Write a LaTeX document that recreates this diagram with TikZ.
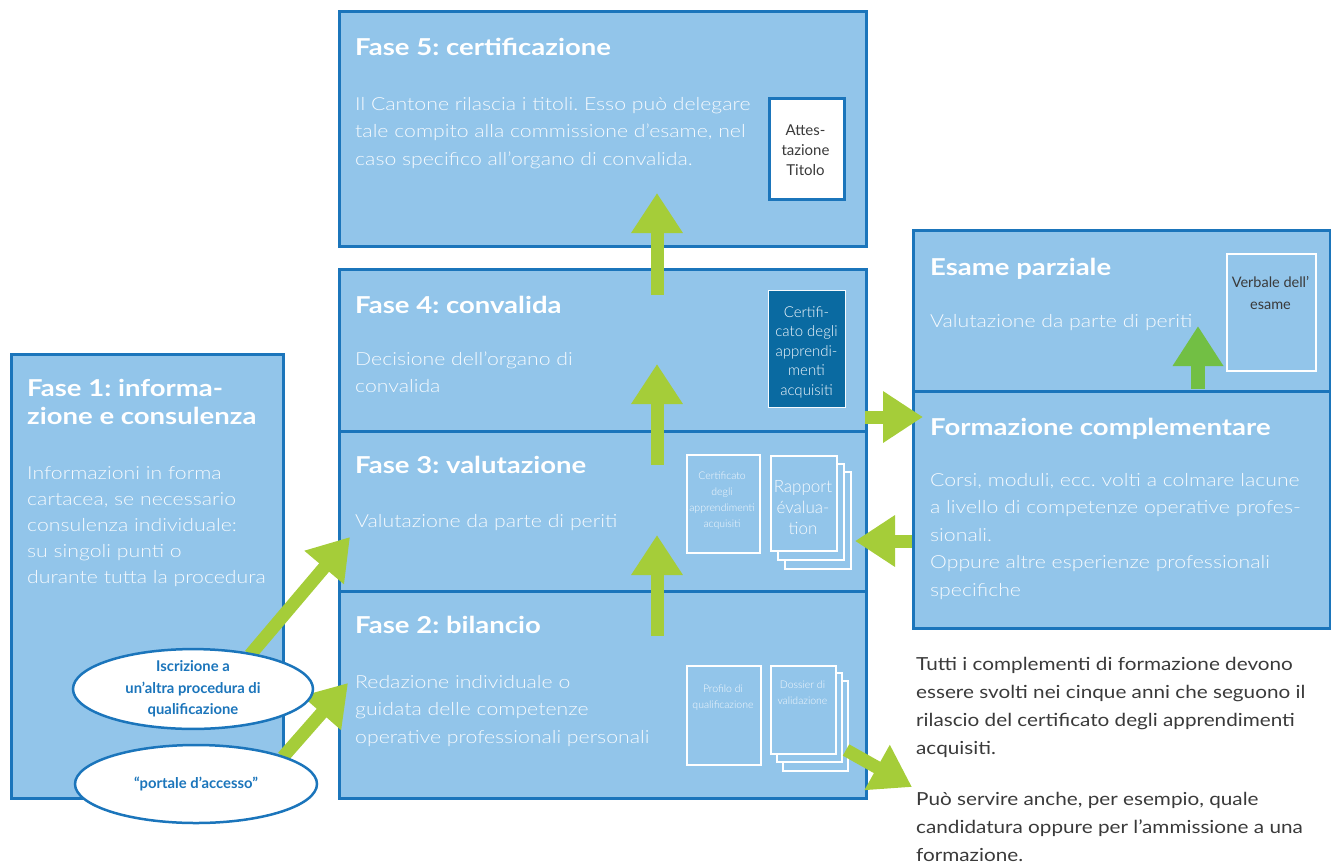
\documentclass[tikz,border=0pt]{standalone}
\usepackage{fontspec}
\setmainfont{Lato}
\newfontfamily\lightp{Lato Light}
\newfontfamily\headf{Lato}[FakeStretch=1.18]
\newfontfamily\bodyf{Lato Light}[FakeStretch=1.18]
\newfontfamily\outf{Lato}[FakeStretch=1.15]
\frenchspacing
\usetikzlibrary{arrows.meta,shapes.geometric}
\definecolor{fillb}{HTML}{92C5EA}
\definecolor{lineb}{HTML}{1B75BB}
\definecolor{grn}{HTML}{A5CD39}
\definecolor{grn2}{HTML}{72BF44}
\definecolor{darkb}{HTML}{0A6AA1}
\definecolor{txtg}{HTML}{3A3A3A}
\definecolor{paletxt}{HTML}{F6FAFE}
\newcommand{\ml}[2][l]{\begin{tabular}[t]{@{}#1@{}}#2\end{tabular}}
\begin{document}
\begin{tikzpicture}[x=1pt,y=-1pt,
  phase/.style={draw=lineb, fill=fillb, line width=2.8pt, rectangle, inner sep=0pt, anchor=north west},
  heading/.style={anchor=base west, inner sep=0pt, text=white, font=\headf\fontsize{23.3}{28}\selectfont\bfseries},
  body/.style={anchor=base west, inner sep=0pt, text=paletxt, font=\bodyf\fontsize{18}{27.5}\selectfont},
  outer/.style={anchor=base west, inner sep=0pt, text=txtg, font=\outf\fontsize{18}{28}\selectfont},
  garrow/.style={draw=grn, line width=13pt, -{Triangle[width=49pt,length=40pt]}},
  sarrow/.style={draw=grn2, line width=14pt, -{Triangle[width=48pt,length=40pt]}},
  docw/.style={draw=white, line width=2pt, fill=fillb, rectangle, inner sep=0pt, anchor=north west},
  smalltxt/.style={anchor=base, inner sep=0pt, text=paletxt, font=\lightp\fontsize{10.5}{16}\selectfont},
  oval/.style={ellipse, draw=lineb, fill=white, line width=2.5pt, inner sep=0pt, align=center, text=lineb, font=\fontsize{14.8}{21.5}\selectfont\bfseries}
]
\useasboundingbox (0,0) rectangle (1331,863);

% phase boxes
\node[phase, minimum width=527pt, minimum height=235pt] (f5) at (338,10) {};
\node[phase, minimum width=527pt, minimum height=162pt] (f4) at (338,268) {};
\node[phase, minimum width=527pt, minimum height=160pt] (f3) at (338,430) {};
\node[phase, minimum width=527pt, minimum height=207pt] (f2) at (338,590) {};
\node[phase, minimum width=272pt, minimum height=444pt] (f1) at (10,353) {};
\node[phase, minimum width=417pt, minimum height=161pt] (ep) at (912,229) {};
\node[phase, minimum width=417pt, minimum height=237pt] (fc) at (912,390) {};

% headings
\node[heading] (h5) at (355,55) {Fase 5: certificazione};
\node[heading] (h4) at (355,313) {Fase 4: convalida};
\node[heading] (h3) at (355,473) {Fase 3: valutazione};
\node[heading] (h2) at (355,633) {Fase 2: bilancio};
\node[heading] (h1) at (27,396) {\ml{Fase 1: informa-\\zione e consulenza}};
\node[heading] (hep) at (930,275) {Esame parziale};
\node[heading] (hfc) at (930,435) {Formazione complementare};

% body texts
\node[body] (b5) at (355,110) {\ml{Il Cantone rilascia i titoli. Esso può delegare\\tale compito alla commissione d’esame, nel\\caso specifico all’organo di convalida.}};
\node[body] (b4) at (355,365) {\ml{Decisione dell’organo di\\convalida}};
\node[body] (b3) at (355,527) {Valutazione da parte di periti};
\node[body] (b2) at (355,688) {\ml{Redazione individuale o\\guidata delle competenze\\operative professionali personali}};
\node[body, font=\bodyf\fontsize{18}{26}\selectfont] (b1) at (27,479) {\ml{Informazioni in forma\\cartacea, se necessario\\consulenza individuale:\\su singoli punti o\\durante tutta la procedura}};
\node[body] (bep) at (930,327) {Valutazione da parte di periti};
\node[body] (bfc) at (930,486) {\ml{Corsi, moduli, ecc. volti a colmare lacune\\a livello di competenze operative profes-\\sionali.\\Oppure altre esperienze professionali\\specifiche}};

% outside text
\node[outer] (t1) at (916,670) {\ml{Tutti i complementi di formazione devono\\essere svolti nei cinque anni che seguono il\\rilascio del certificato degli apprendimenti\\acquisiti.}};
\node[outer] (t2) at (916,805) {\ml{Può servire anche, per esempio, quale\\candidatura oppure per l’ammissione a una\\formazione.}};

% documents
\node[rectangle, draw=lineb, fill=white, line width=2.5pt, inner sep=0pt, anchor=north west, minimum width=75pt, minimum height=101pt] (att) at (768,97) {};
\node[anchor=base, inner sep=0pt, text=txtg, font=\fontsize{15}{20}\selectfont] (attt) at (805.5,135) {\ml[c]{Attes-\\tazione\\Titolo}};

\node[rectangle, draw=paletxt, fill=darkb, line width=0.8pt, inner sep=0pt, anchor=north west, minimum width=77pt, minimum height=117pt] (cert) at (768,290) {};
\node[anchor=base, inner sep=0pt, text=paletxt, font=\lightp\fontsize{15}{19.5}\selectfont] (certt) at (806.5,317) {\ml[c]{Certifi-\\cato degli\\apprendi-\\menti\\acquisiti}};

\node[docw, minimum width=73pt, minimum height=98pt] (cert3) at (686,454) {};
\node[smalltxt] (cert3t) at (722,479.5) {\ml[c]{Certificato\\degli\\apprendimenti\\acquisiti}};

\node[docw, minimum width=66pt, minimum height=97pt] (rap3) at (784,471) {};
\node[docw, minimum width=66pt, minimum height=96pt] (rap2) at (777,463) {};
\node[docw, minimum width=66pt, minimum height=95pt] (rap1) at (770,455) {};
\node[anchor=base, inner sep=0pt, text=paletxt, font=\lightp\fontsize{17}{21}\selectfont] (rapt) at (803,492) {\ml[c]{Rapport\\évalua-\\tion}};

\node[docw, minimum width=74pt, minimum height=99pt] (prof) at (686,665) {};
\node[smalltxt] (proft) at (723,692) {\ml[c]{Profilo di\\qualificazione}};

\node[docw, minimum width=65pt, minimum height=90pt] (dos3) at (782,680) {};
\node[docw, minimum width=65pt, minimum height=89pt] (dos2) at (776,672) {};
\node[docw, minimum width=65pt, minimum height=88pt] (dos1) at (770,665) {};
\node[smalltxt] (dost) at (802.5,688.5) {\ml[c]{Dossier di\\validazione}};

\node[docw, minimum width=89pt, minimum height=117pt] (verb) at (1226,253) {};
\node[anchor=base, inner sep=0pt, text=txtg, font=\fontsize{14.5}{22}\selectfont] (verbt) at (1270.5,287) {\ml[c]{Verbale dell’\\esame}};

% arrow end coordinates
\coordinate (a5s) at (657,295); \coordinate (a5e) at (657,193);
\coordinate (a4s) at (657,465); \coordinate (a4e) at (657,364);
\coordinate (a3s) at (657,636); \coordinate (a3e) at (657,535);
\coordinate (ars) at (865,417); \coordinate (are) at (923,417);
\coordinate (als) at (912,541); \coordinate (ale) at (855,541);
\coordinate (d1s) at (250,655); \coordinate (d1e) at (350,537);
\coordinate (d2s) at (283,757); \coordinate (d2e) at (348,683);
\coordinate (d3s) at (846,750); \coordinate (d3e) at (912,787);
\coordinate (ses) at (1198,389); \coordinate (see) at (1198,326);

\draw[garrow] (a5s) -- (a5e);
\draw[garrow] (a4s) -- (a4e);
\draw[garrow] (a3s) -- (a3e);
\draw[garrow] (ars) -- (are);
\draw[garrow] (als) -- (ale);
\draw[garrow] (d1s) -- (d1e);
\draw[garrow] (d2s) -- (d2e);
\draw[garrow] (d3s) -- (d3e);
\draw[sarrow] (ses) -- (see);

% ellipses
\node[oval, minimum width=240pt, minimum height=70pt] (e1) at (193,689) {Iscrizione a\\un’altra procedura di\\qualificazione};
\node[oval, minimum width=242pt, minimum height=78pt] (e2) at (196,784) {“portale d’accesso”};
\end{tikzpicture}
\end{document}
